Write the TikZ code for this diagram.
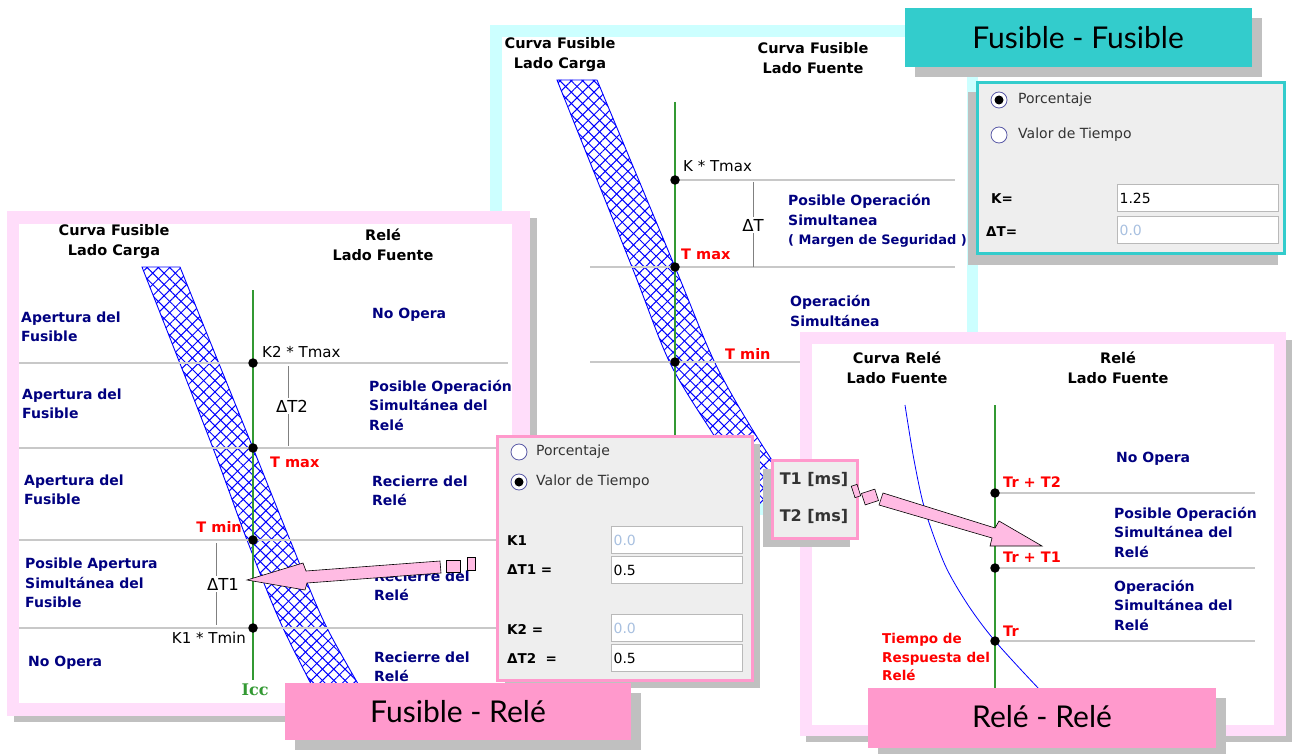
\documentclass[tikz,border=0pt]{standalone}
\usepackage{fontspec}
\setmainfont{DejaVu Sans}
\newfontfamily\titlefont{Lato}
\newfontfamily\iccfont{DejaVu Serif}
\usepackage{tikz}
\usetikzlibrary{patterns.meta}
\usepackage{xcolor}
\definecolor{framepink}{HTML}{FFDDFA}
\definecolor{framecyan}{HTML}{CCFFFF}
\definecolor{titlepink}{HTML}{FF99CC}
\definecolor{titleteal}{HTML}{33CCCC}
\definecolor{shadowgray}{HTML}{C0C0C0}
\definecolor{zoneblue}{HTML}{000080}
\definecolor{rulegray}{HTML}{C8C8C8}
\definecolor{iccgreen}{HTML}{339933}
\definecolor{dialoggray}{HTML}{EEEEEE}
\definecolor{arrowpink}{HTML}{FFBBE3}
\definecolor{offtext}{HTML}{A8C0E0}
\definecolor{darktext}{HTML}{333333}

% hatched band of a fuse curve
\newcommand\crossband[1]{%
  \fill[pattern={Lines[angle=45,distance=8pt,line width=1pt]},pattern color=blue] #1;
  \fill[pattern={Lines[angle=-45,distance=8pt,line width=1pt]},pattern color=blue] #1;
  \draw[blue,line width=.9pt] #1;}

\tikzset{
  zone/.style={font=\fontsize{14}{19.5}\selectfont\bfseries,text=zoneblue,align=left,anchor=west,inner sep=0pt},
  head/.style={font=\fontsize{14.5}{20}\selectfont\bfseries,align=center,inner sep=0pt},
  redlbl/.style={font=\fontsize{14.5}{19}\selectfont\bfseries,text=red,align=left,inner sep=0pt},
  blklbl/.style={font=\fontsize{15}{18}\selectfont,inner sep=0pt},
  deltalbl/.style={font=\fontsize{16.5}{18}\selectfont,fill=white,inner sep=2pt},
  deltaline/.style={draw=gray,line width=1pt},
  rule/.style={draw=rulegray,line width=1.2pt},
  iccline/.style={draw=iccgreen,line width=1.2pt},
  dot/.style={circle,fill=black,inner sep=0pt,minimum size=9.5pt},
  shadow/.style={fill=shadowgray},
  titlebox/.style={font=\titlefont\fontsize{30}{32}\selectfont,inner sep=0pt},
  dlgtext/.style={font=\fontsize{14}{16}\selectfont,text=darktext,anchor=west,inner sep=0pt},
  dlglbl/.style={font=\fontsize{13.5}{16}\selectfont\bfseries,anchor=west,inner sep=0pt},
  field/.style={draw=gray!55,fill=white,line width=1.2pt,anchor=north west,minimum height=27pt,
    inner sep=2pt,align=left,font=\fontsize{14}{15}\selectfont},
  radio/.style={circle,draw=gray!70!blue,fill=white,line width=.8pt,minimum size=16pt,inner sep=0pt},
  radioon/.style={radio,path picture={\fill[black] (path picture bounding box.center) circle (4.5pt);}},
  blockarrow/.style={fill=arrowpink,draw=black,line width=.6pt,line join=miter}
}

\begin{document}
\begin{tikzpicture}[x=1pt,y=-1pt]
\useasboundingbox (0,0) rectangle (1295,754);

% Fusible - Fusible panel
\fill[framecyan] (490,25) rectangle (978,515);
\fill[white] (502,37) rectangle (967,503);
\begin{scope}
  \clip (502,37) rectangle (967,503);
  \crossband{plot[smooth] coordinates {(557,80) (632,267) (670,363) (715,437) (768,520)} -- plot[smooth] coordinates {(812,520) (757,437) (715,363) (675,267) (597,80)} -- cycle}
\end{scope}
\node[head] (hcarga1) at (560,55) {Curva Fusible\\Lado Carga};
\node[head] (hfuente1) at (813,58) {Curva Fusible\\Lado Fuente};
\draw[rule] (675,180) -- (955,180);
\draw[rule] (590,267) -- (955,267);
\draw[rule] (590,362) -- (800,362);
\draw[iccline] (675,102) -- (675,470);
\node[dot] (ktmax) at (675,180) {};
\node[dot] (tmax1) at (675,267) {};
\node[dot] (tmin1) at (675,362) {};
\node[blklbl,anchor=west] (klbl) at (683,166) {K * Tmax};
\draw[deltaline] (753,182) -- (753,267);
\node[deltalbl] (dt) at (753,225) {ΔT};
\node[redlbl,anchor=west] (tmaxlbl1) at (681,254) {T max};
\node[redlbl,anchor=west] (tminlbl1) at (725,354) {T min};
\node[zone] (margen) at (788,221) {Posible Operación\\Simultanea\\{\fontsize{13}{19}\selectfont( Margen de Seguridad )}};
\node[zone] (opsim1) at (790,311) {Operación\\Simultánea};

% dialog K / Delta T
\fill[shadow] (968,92) rectangle (1278,265);
\draw[fill=dialoggray,draw=titleteal,line width=3pt] (977,83) rectangle (1284,253);
\node[radioon] (porc1) at (999,100) {};
\node[dlgtext] (porctxt1) at (1018,100) {Porcentaje};
\node[radio] (valor1) at (999,135) {};
\node[dlgtext] (valortxt1) at (1018,135) {Valor de Tiempo};
\node[dlglbl] (klbl1) at (991,199) {K=};
\node[field,text width=157pt] (kval) at (1117,184) {1.25};
\node[dlglbl] (dtlbl1) at (986,232) {ΔT=};
\node[field,text width=157pt,text=offtext] (dtval) at (1117,216) {0.0};

% title
\fill[shadow] (915,18) rectangle (1262,77);
\fill[titleteal] (905,8) rectangle (1252,67);
\node[titlebox] (tff) at (1078,38) {Fusible - Fusible};

% Fusible - Rele panel
\fill[shadow] (14,218) rectangle (537,722);
\fill[framepink] (7,211) rectangle (530,716);
\fill[white] (19,224) rectangle (512,703);
\begin{scope}
  \clip (19,224) rectangle (512,703);
  \crossband{plot[smooth] coordinates {(142,267) (213,448) (247,540) (283,628) (335,730)} -- plot[smooth] coordinates {(385,730) (327,628) (290,540) (253,448) (180,267)} -- cycle}
\end{scope}
\node[head] (hcarga2) at (114,242) {Curva Fusible\\Lado Carga};
\node[head] (hrele2) at (383,245) {Relé\\Lado Fuente};
\foreach \y in {363,448,540,628}
  \draw[rule] (19,\y) -- (508,\y);
\draw[iccline] (253,290) -- (253,680);
\node[dot] (k2tmax) at (253,363) {};
\node[dot] (tmax2) at (253,448) {};
\node[dot] (tmin2) at (253,540) {};
\node[dot] (k1tmin) at (253,628) {};
\node[blklbl,anchor=west] (k2lbl) at (262,352) {K2 * Tmax};
\node[redlbl,anchor=west] (tmaxlbl2) at (270,462) {T max};
\node[redlbl,anchor=east] (tminlbl2) at (242,527) {T min};
\node[blklbl,anchor=east] (k1lbl) at (246,638) {K1 * Tmin};
\draw[deltaline] (288,366) -- (288,446);
\node[deltalbl] (dt2) at (292,406) {ΔT2};
\draw[deltaline] (216,543) -- (216,625);
\node[deltalbl] (dt1) at (223,584) {ΔT1};
\node[font=\iccfont\bfseries\fontsize{16}{18}\selectfont,text=iccgreen,inner sep=0pt] (icc) at (255,690) {Icc};
\node[zone] (ap1) at (21,327) {Apertura del\\Fusible};
\node[zone] (ap2) at (22,404) {Apertura del\\Fusible};
\node[zone] (ap3) at (24,490) {Apertura del\\Fusible};
\node[zone] (posap) at (25,583) {Posible Apertura\\Simultánea del\\Fusible};
\node[zone] (noop2) at (28,663) {No Opera};
\node[zone] (noopr2) at (372,315) {No Opera};
\node[zone] (posop2) at (369,405) {Posible Operación\\Simultánea del\\Relé};
\node[zone] (rec1) at (372,491) {Recierre del\\Relé};
\node[zone] (rec2) at (374,586) {Recierre del\\Relé};
\node[zone] (rec3) at (374,667) {Recierre del\\Relé};

% arrow to Delta T1
\draw[blockarrow] (247,580) -- (303,563) -- (306,571) -- (440,561) -- (441,573) -- (307,583) -- (305,590) -- cycle;
\draw[blockarrow] (446,560) rectangle (460,572);
\draw[blockarrow] (467,557) rectangle (475,570);

% dialog K1 K2
\fill[shadow] (505,444) rectangle (760,688);
\draw[fill=dialoggray,draw=titlepink,line width=3pt] (497,436) rectangle (752,680);
\node[radio] (porc2) at (519,452) {};
\node[dlgtext] (porctxt2) at (536,452) {Porcentaje};
\node[radioon] (valor2) at (519,482) {};
\node[dlgtext] (valortxt2) at (536,482) {Valor de Tiempo};
\node[dlglbl] (k1dlg) at (507,541) {K1};
\node[field,text width=127pt,text=offtext] (k1val) at (611,526) {0.0};
\node[dlglbl] (dt1dlg) at (507,570) {ΔT1 =};
\node[field,text width=127pt] (dt1val) at (611,556) {0.5};
\node[dlglbl] (k2dlg) at (507,629) {K2 =};
\node[field,text width=127pt,text=offtext] (k2val) at (611,614) {0.0};
\node[dlglbl] (dt2dlg) at (507,658) {ΔT2 \ =};
\node[field,text width=127pt] (dt2val) at (611,644) {0.5};

% title
\fill[shadow] (295,693) rectangle (641,750);
\fill[titlepink] (285,683) rectangle (631,740);
\node[titlebox] (tfr) at (458,712) {Fusible - Relé};

% Rele - Rele panel
\fill[shadow] (806,340) rectangle (1292,742);
\fill[framepink] (800,332) rectangle (1286,736);
\fill[white] (812,344) rectangle (1274,725);
\node[head] (hcurva3) at (897,368) {Curva Relé\\Lado Fuente};
\node[head] (hrele3) at (1118,368) {Relé\\Lado Fuente};
\draw[blue,line width=.8pt] plot[smooth] coordinates {(905,405) (914,460) (925,510) (945,565) (968,605) (995,641) (1040,690) (1075,725)};
\foreach \y in {493,568,641}
  \draw[rule] (995,\y) -- (1255,\y);
\draw[iccline] (995,405) -- (995,700);
\node[dot] (trt2) at (995,493) {};
\node[dot] (trt1) at (995,568) {};
\node[dot] (tr) at (995,641) {};
\node[redlbl,anchor=west] (trt2lbl) at (1003,482) {Tr + T2};
\node[redlbl,anchor=west] (trt1lbl) at (1003,557) {Tr + T1};
\node[redlbl,anchor=west] (trlbl) at (1003,631) {Tr};
\node[redlbl,anchor=west,font=\fontsize{13.5}{18.5}\selectfont\bfseries] (tresp) at (882,657) {Tiempo de\\Respuesta del\\Relé};
\node[zone] (noop3) at (1116,459) {No Opera};
\node[zone] (posop3) at (1114,532) {Posible Operación\\Simultánea del\\Relé};
\node[zone] (opsim3) at (1114,605) {Operación\\Simultánea del\\Relé};

% T1 T2 box
\fill[shadow] (763,469) rectangle (850,547);
\draw[fill=dialoggray,draw=titlepink,line width=3pt] (772,460) rectangle (857,538);
\node[font=\fontsize{16}{18}\selectfont\bfseries,text=darktext,inner sep=0pt] (t1ms) at (814,479) {T1 [ms]};
\node[font=\fontsize{16}{18}\selectfont\bfseries,text=darktext,inner sep=0pt] (t2ms) at (814,516) {T2 [ms]};

% arrow to Tr + T1
\draw[blockarrow,rotate around={18:(856,491)}] (853,485) rectangle (859,497);
\draw[blockarrow,rotate around={18:(870,497)}] (863,491) rectangle (877,503);
\draw[blockarrow] (1042,546) -- (999,521) -- (995,528) -- (883,493) -- (879,505) -- (992,538) -- (990,546) -- cycle;

% title
\fill[shadow] (878,698) rectangle (1226,758);
\fill[titlepink] (868,688) rectangle (1216,748);
\node[titlebox] (trr) at (1042,717) {Relé - Relé};
\end{tikzpicture}
\end{document}
